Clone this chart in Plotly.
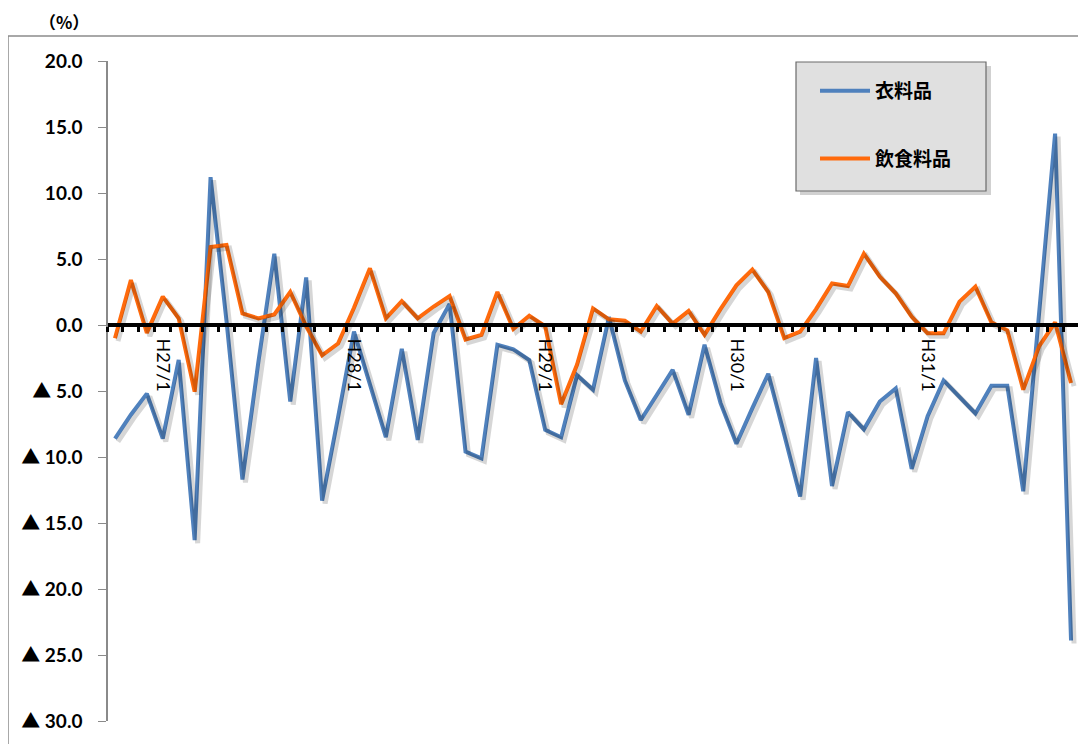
import plotly.graph_objects as go

# months H26/10 .. H31/10
months = []
for yr in range(26, 32):
    for m in range(1, 13):
        if (yr == 26 and m < 10) or (yr == 31 and m > 10):
            continue
        months.append(f"H{yr}/{m}")

clothing = [-8.6, -6.8, -5.2, -8.6, -2.65, -16.3, 11.2, 0.3, -11.7, -2.8,
            5.4, -5.8, 3.6, -13.3, -7.0, -0.5, -4.5, -8.5, -1.8, -8.7,
            -0.6, 1.6, -9.6, -10.1, -1.5, -1.85, -2.65, -7.95, -8.5, -3.8,
            -4.9, 0.6, -4.2, -7.2, -5.3, -3.4, -6.8, -1.5, -5.9, -9.0,
            -6.3, -3.7, -8.3, -13.0, -2.5, -12.2, -6.6, -7.9, -5.8, -4.8,
            -10.9, -6.9, -4.2, -5.5, -6.7, -4.6, -4.6, -12.6, 1.0, 14.5,
            -23.9]
food = [-1.0, 3.4, -0.6, 2.15, 0.5, -5.05, 5.9, 6.06, 0.88, 0.5,
        0.8, 2.5, -0.1, -2.3, -1.4, 1.3, 4.3, 0.5, 1.8, 0.5,
        1.4, 2.2, -1.1, -0.75, 2.5, -0.3, 0.7, -0.1, -6.0, -3.0,
        1.26, 0.43, 0.33, -0.5, 1.44, 0.1, 1.06, -0.75, 1.2, 3.0,
        4.2, 2.5, -1.0, -0.5, 1.2, 3.15, 2.95, 5.4, 3.66, 2.4,
        0.63, -0.63, -0.63, 1.77, 2.9, 0.2, -0.4, -4.9, -1.6, 0.2,
        -4.4]

x = list(range(len(months)))
jan_idx = [i for i, m in enumerate(months) if m.endswith("/1")]
jan_txt = [months[i] for i in jan_idx]

yvals = list(range(-30, 25, 5))
ytext = [f"{v:.1f}" if v >= 0 else f"▲ {abs(v):.1f}" for v in yvals]
ymin, ymax = -30, 20
xmin, xmax = -0.5, len(months) - 0.5

# page has an 8px body margin
OFF = 8
W, H = 1078, 736
L, T = 99, 53
pw, ph = 972, 660
R, B = W - L - pw, H - T - ph


def px(xp):
    return (xp - OFF - L) / pw


def py(yp):
    return (H - B - (yp - OFF)) / ph


# drop shadow: same series on axes shifted 3px right / down
sh = 3
ax_ = sh / pw
by_ = sh / ph

fig = go.Figure()
for ys in (clothing, food):
    fig.add_trace(go.Scatter(x=x, y=ys, mode="lines", xaxis="x2", yaxis="y2",
                             showlegend=False, hoverinfo="skip",
                             line=dict(color="rgba(0,0,0,0.16)", width=5)))
fig.add_trace(go.Scatter(x=x, y=clothing, mode="lines", name="衣料品",
                         legendgroup="a",
                         line=dict(color="#4F81BD", width=4)))
fig.add_trace(go.Scatter(x=x, y=food, mode="lines", name="飲食料品",
                         legendgroup="b",
                         line=dict(color="#FF6A0C", width=4)))

shapes = [
    # outer frame
    dict(type="rect", xref="paper", yref="paper",
         x0=px(8), x1=px(1100), y0=py(760), y1=py(36),
         line=dict(color="#8c8c8c", width=1.5), fillcolor="rgba(0,0,0,0)"),
    # legend shadow + box
    dict(type="rect", xref="paper", yref="paper",
         x0=px(800), x1=px(991), y0=py(195), y1=py(66),
         line=dict(width=0), fillcolor="rgba(0,0,0,0.18)", layer="below"),
    dict(type="rect", xref="paper", yref="paper",
         x0=px(796), x1=px(986), y0=py(191), y1=py(62),
         line=dict(color="#6a6a6a", width=1.2), fillcolor="#e0e0e0",
         layer="below"),
]

fig.update_layout(
    width=W, height=H,
    margin=dict(l=L, r=R, t=T, b=B),
    paper_bgcolor="white", plot_bgcolor="rgba(0,0,0,0)",
    font=dict(family="Lato, Noto Sans CJK JP", color="black"),
    shapes=shapes,
    showlegend=True,
    legend=dict(x=px(815), y=py(72), xanchor="left", yanchor="top",
                bgcolor="rgba(0,0,0,0)", traceorder="grouped",
                tracegroupgap=40, itemwidth=50,
                font=dict(family="Noto Sans CJK JP", size=19, weight="bold")),
    xaxis=dict(range=[xmin, xmax], anchor="free", position=0.6,
               showline=True, linecolor="black", linewidth=4,
               showgrid=False, zeroline=False,
               tickmode="array", tickvals=jan_idx, ticktext=jan_txt,
               ticks="", tickangle=90, ticklabelstandoff=8,
               tickfont=dict(size=18, family="Lato"),
               minor=dict(tickmode="array",
                          tickvals=[i - 0.5 for i in range(len(months) + 1)],
                          ticks="outside", ticklen=5, tickwidth=3,
                          tickcolor="black", showgrid=False)),
    yaxis=dict(range=[ymin, ymax], anchor="free", position=0,
               showline=True, linecolor="#8a8a8a", linewidth=1.5,
               showgrid=False, zeroline=False,
               tickmode="array", tickvals=yvals, ticktext=ytext,
               ticks="outside", ticklen=8, tickcolor="#8a8a8a",
               ticklabelstandoff=12,
               tickfont=dict(size=19, weight="bold")),
    xaxis2=dict(domain=[ax_, 1], range=[xmin, xmax - (xmax - xmin) * ax_],
                anchor="y2", visible=False, showgrid=False, zeroline=False),
    yaxis2=dict(domain=[0, 1 - by_], range=[ymin + (ymax - ymin) * by_, ymax],
                anchor="x2", visible=False, showgrid=False, zeroline=False),
    annotations=[dict(text="（%）", xref="paper", yref="paper",
                      x=px(64), y=py(21), xanchor="center", yanchor="middle",
                      showarrow=False, borderpad=0,
                      font=dict(size=17, weight="bold",
                                family="Noto Sans CJK JP"))],
)

fig.write_html("out.html")
